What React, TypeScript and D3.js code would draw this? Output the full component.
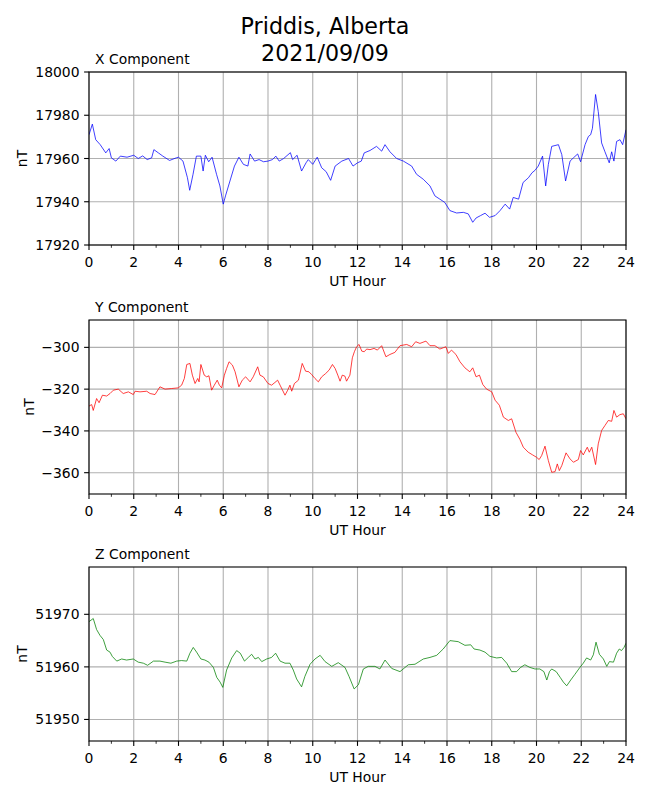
import React from "react";
import * as d3 from "d3";

const titleLines = ["Priddis, Alberta", "2021/09/09"];
const componentNames = ["X Component", "Y Component", "Z Component"];
const hourTicks = [0, 2, 4, 6, 8, 10, 12, 14, 16, 18, 20, 22, 24];
const hourMinorTicks = [1, 3, 5, 7, 9, 11, 13, 15, 17, 19, 21, 23];

const xTicks = [17920, 17940, 17960, 17980, 18000];
const yTicks = [-360, -340, -320, -300];
const zTicks = [51950, 51960, 51970];

const xDomain = [17920, 18000];
const yDomain = [-370.2, -286.9];
const zDomain = [51945.9, 51979.0];

const xHours = [0, 0.15, 0.3, 0.5, 0.75, 0.9, 1.0, 1.2, 1.4, 1.7, 2.0, 2.2, 2.4, 2.6, 2.8, 2.9, 3.1, 3.3, 3.6, 3.9, 4.0, 4.2, 4.4, 4.5, 4.65, 4.8, 5.0, 5.1, 5.2, 5.35, 5.5, 5.7, 5.85, 6.0, 6.1, 6.3, 6.5, 6.7, 6.9, 7.1, 7.2, 7.4, 7.6, 7.8, 8.0, 8.2, 8.35, 8.5, 8.7, 9.0, 9.1, 9.3, 9.5, 9.7, 9.8, 10.0, 10.2, 10.4, 10.6, 10.8, 11.0, 11.3, 11.6, 11.8, 12.0, 12.17, 12.3, 12.56, 12.85, 13.08, 13.23, 13.45, 13.75, 14.05, 14.42, 14.64, 14.94, 15.24, 15.46, 15.68, 15.9, 16.13, 16.43, 16.73, 16.95, 17.15, 17.3, 17.5, 17.7, 17.9, 18.15, 18.37, 18.6, 18.8, 18.96, 19.2, 19.4, 19.64, 19.8, 19.93, 20.08, 20.27, 20.41, 20.53, 20.68, 20.98, 21.13, 21.3, 21.5, 21.65, 21.84, 21.97, 22.17, 22.32, 22.42, 22.5, 22.64, 22.76, 22.91, 23.06, 23.25, 23.36, 23.46, 23.58, 23.73, 23.85, 24.0];
const xValues = [17971.0, 17975.9, 17968.7, 17966.4, 17962.6, 17964.6, 17960.3, 17958.8, 17961.1, 17960.6, 17961.5, 17960.0, 17961.2, 17959.5, 17960.3, 17964.1, 17962.6, 17961.1, 17959.1, 17960.3, 17960.6, 17958.8, 17951.1, 17945.3, 17952.7, 17961.1, 17961.1, 17954.2, 17961.5, 17958.5, 17960.6, 17952.7, 17947.3, 17938.9, 17942.7, 17949.6, 17956.5, 17960.6, 17957.3, 17956.5, 17962.1, 17958.8, 17959.5, 17958.5, 17958.8, 17959.5, 17961.1, 17958.8, 17960.0, 17962.7, 17959.5, 17961.5, 17954.2, 17958.0, 17959.5, 17957.3, 17960.6, 17955.7, 17953.9, 17949.9, 17956.5, 17958.8, 17960.0, 17956.5, 17958.0, 17958.8, 17962.6, 17963.7, 17965.6, 17963.4, 17966.4, 17963.1, 17960.0, 17958.8, 17956.5, 17952.7, 17950.4, 17947.3, 17942.7, 17941.2, 17939.7, 17935.9, 17934.8, 17935.1, 17934.4, 17930.5, 17932.5, 17933.6, 17934.7, 17932.8, 17933.6, 17935.9, 17938.9, 17936.6, 17942.0, 17941.2, 17948.9, 17951.1, 17953.4, 17954.5, 17956.5, 17961.1, 17947.3, 17957.3, 17965.6, 17966.4, 17961.8, 17949.6, 17958.8, 17960.3, 17962.1, 17958.5, 17966.4, 17970.2, 17971.0, 17974.0, 17989.6, 17981.7, 17967.2, 17963.1, 17958.0, 17963.1, 17958.8, 17967.9, 17968.7, 17966.4, 17973.3];

const yHours = [0, 0.12, 0.19, 0.34, 0.45, 0.6, 0.79, 0.94, 1.09, 1.31, 1.53, 1.76, 1.98, 2.06, 2.28, 2.58, 2.73, 2.95, 3.17, 3.4, 3.7, 3.99, 4.14, 4.26, 4.37, 4.51, 4.62, 4.74, 4.86, 4.92, 5.0, 5.15, 5.26, 5.36, 5.48, 5.6, 5.73, 5.83, 5.93, 6.05, 6.15, 6.26, 6.41, 6.53, 6.7, 6.85, 7.0, 7.2, 7.34, 7.54, 7.64, 7.79, 8.0, 8.16, 8.31, 8.43, 8.54, 8.76, 8.88, 8.98, 9.06, 9.18, 9.36, 9.53, 9.68, 9.83, 9.95, 10.1, 10.25, 10.4, 10.58, 10.73, 10.88, 11.0, 11.12, 11.22, 11.32, 11.44, 11.51, 11.66, 11.77, 11.86, 11.96, 12.07, 12.19, 12.3, 12.41, 12.56, 12.74, 12.89, 13.08, 13.27, 13.45, 13.67, 13.9, 14.2, 14.42, 14.6, 14.79, 15.06, 15.24, 15.46, 15.68, 15.83, 15.95, 16.06, 16.2, 16.4, 16.58, 16.8, 17.02, 17.15, 17.3, 17.45, 17.6, 17.77, 18.0, 18.15, 18.34, 18.52, 18.74, 18.89, 19.08, 19.26, 19.41, 19.63, 19.83, 20.0, 20.12, 20.23, 20.38, 20.53, 20.68, 20.83, 20.93, 21.02, 21.13, 21.32, 21.5, 21.65, 21.87, 21.97, 22.09, 22.27, 22.36, 22.47, 22.64, 22.76, 22.91, 23.06, 23.21, 23.36, 23.46, 23.58, 23.73, 23.88, 24.0];
const yValues = [-328.1, -327.4, -330.2, -324.5, -326.5, -322.9, -323.3, -322.1, -320.5, -320.0, -322.1, -321.3, -322.6, -321.0, -321.3, -321.0, -322.1, -322.6, -318.9, -320.0, -319.7, -319.4, -318.1, -314.9, -308.2, -307.7, -313.3, -317.3, -314.9, -316.5, -308.2, -313.3, -314.1, -313.6, -320.5, -318.1, -315.7, -318.1, -319.4, -313.3, -310.1, -306.9, -308.5, -311.7, -318.9, -315.7, -314.1, -316.5, -314.1, -309.3, -313.3, -314.1, -317.3, -318.1, -316.8, -315.7, -318.1, -322.9, -320.5, -318.1, -321.0, -317.3, -315.7, -307.7, -311.4, -311.7, -313.0, -314.9, -316.5, -314.1, -312.5, -310.9, -308.2, -310.1, -313.3, -316.2, -313.3, -313.8, -316.2, -313.3, -305.0, -302.1, -299.7, -298.6, -301.8, -302.1, -300.8, -301.1, -300.5, -301.3, -299.2, -304.5, -303.4, -302.4, -299.2, -298.6, -299.7, -297.3, -298.1, -297.0, -299.2, -299.2, -300.8, -300.2, -299.7, -302.9, -301.3, -303.4, -306.9, -309.8, -311.7, -309.8, -314.1, -313.3, -317.8, -320.0, -321.3, -325.3, -327.7, -333.4, -335.0, -334.2, -340.6, -344.1, -347.8, -350.2, -351.5, -352.6, -353.7, -351.8, -347.3, -354.2, -359.8, -359.5, -355.8, -359.0, -356.6, -350.5, -353.4, -355.0, -353.7, -349.4, -351.5, -347.8, -350.2, -347.8, -356.1, -346.2, -339.8, -337.4, -335.0, -335.4, -330.2, -333.4, -332.2, -331.8, -334.2];

const zHours = [0, 0.19, 0.34, 0.49, 0.64, 0.79, 0.94, 1.04, 1.24, 1.46, 1.68, 1.98, 2.2, 2.43, 2.62, 2.88, 3.17, 3.4, 3.66, 3.92, 4.14, 4.37, 4.51, 4.66, 4.81, 5.0, 5.18, 5.36, 5.56, 5.71, 5.86, 5.98, 6.15, 6.38, 6.6, 6.76, 6.95, 7.12, 7.27, 7.42, 7.57, 7.72, 7.94, 8.16, 8.34, 8.54, 8.76, 8.98, 9.13, 9.28, 9.5, 9.65, 9.88, 10.1, 10.33, 10.55, 10.85, 11.14, 11.44, 11.62, 11.85, 12.04, 12.26, 12.48, 12.78, 13.0, 13.23, 13.53, 13.9, 14.27, 14.57, 14.94, 15.24, 15.54, 15.83, 16.13, 16.5, 16.8, 17.06, 17.21, 17.47, 17.7, 17.92, 18.22, 18.44, 18.67, 18.89, 19.11, 19.29, 19.48, 19.7, 19.93, 20.15, 20.33, 20.46, 20.58, 20.68, 20.88, 21.06, 21.2, 21.35, 21.53, 21.72, 21.94, 22.09, 22.24, 22.42, 22.54, 22.66, 22.81, 22.99, 23.14, 23.26, 23.44, 23.58, 23.7, 23.8, 23.91, 24.0];
const zValues = [51968.6, 51969.2, 51967.1, 51966.0, 51965.2, 51963.2, 51962.8, 51962.0, 51961.1, 51961.5, 51961.3, 51961.5, 51960.9, 51960.7, 51960.3, 51961.1, 51961.1, 51960.9, 51960.7, 51961.1, 51961.2, 51961.1, 51962.6, 51963.7, 51962.8, 51961.5, 51961.3, 51960.9, 51959.9, 51958.0, 51957.1, 51956.1, 51959.4, 51961.7, 51963.1, 51962.6, 51961.1, 51961.8, 51962.4, 51961.5, 51961.8, 51961.0, 51961.5, 51961.8, 51962.6, 51961.1, 51960.7, 51960.7, 51959.4, 51957.7, 51956.2, 51958.2, 51960.5, 51961.5, 51962.2, 51961.0, 51960.1, 51960.8, 51959.9, 51958.2, 51955.8, 51956.6, 51959.6, 51960.1, 51960.1, 51959.6, 51961.3, 51959.7, 51959.1, 51960.4, 51960.5, 51961.5, 51961.8, 51962.2, 51963.4, 51965.0, 51964.8, 51964.1, 51964.2, 51963.4, 51963.2, 51962.8, 51962.0, 51961.7, 51961.8, 51960.7, 51959.1, 51959.1, 51959.9, 51960.4, 51959.9, 51959.6, 51959.6, 51959.1, 51957.5, 51959.1, 51959.6, 51959.1, 51958.0, 51957.1, 51956.4, 51957.5, 51958.6, 51959.9, 51960.7, 51961.7, 51961.3, 51962.3, 51964.7, 51962.4, 51961.5, 51960.1, 51961.0, 51960.9, 51962.6, 51963.4, 51963.1, 51963.7, 51964.5];

const FONT = "DejaVu Sans, sans-serif";
const W = 650;
const H = 800;
const LEFT = 89;
const RIGHT = 626;

type PanelProps = {
  top: number;
  bottom: number;
  name: string;
  hours: number[];
  values: number[];
  domain: number[];
  ticks: number[];
  color: string;
  ylabelX: number;
};

function fmt(v: number) {
  return String(v).replace("-", "\u2212");
}

function Panel({ top, bottom, name, hours, values, domain, ticks, color, ylabelX }: PanelProps) {
  const x = d3.scaleLinear().domain([0, 24]).range([LEFT, RIGHT]);
  const y = d3.scaleLinear().domain(domain).range([bottom, top]);
  const idx = d3.range(hours.length);
  const line = d3
    .line<number>()
    .x((i) => x(hours[i]))
    .y((i) => y(values[i]));
  const clipId = "clip-" + name.replace(/\s/g, "");
  return (
    <g>
      <defs>
        <clipPath id={clipId}>
          <rect x={LEFT} y={top} width={RIGHT - LEFT} height={bottom - top} />
        </clipPath>
      </defs>
      {hourTicks.map((t) => (
        <line key={"gx" + t} x1={x(t)} x2={x(t)} y1={top} y2={bottom} stroke="#b0b0b0" strokeWidth={1.1} />
      ))}
      {ticks.map((t) => (
        <line key={"gy" + t} x1={LEFT} x2={RIGHT} y1={y(t)} y2={y(t)} stroke="#b0b0b0" strokeWidth={1.1} />
      ))}
      <path d={line(idx) || ""} fill="none" stroke={color} strokeWidth={0.75} clipPath={`url(#${clipId})`} />
      <rect x={LEFT} y={top} width={RIGHT - LEFT} height={bottom - top} fill="none" stroke="#000" strokeWidth={1.1} />
      {hourTicks.map((t) => (
        <g key={"tx" + t}>
          <line x1={x(t)} x2={x(t)} y1={bottom} y2={bottom + 4.9} stroke="#000" strokeWidth={1.1} />
          <text x={x(t)} y={bottom + 21.5} textAnchor="middle" fontSize={13.9} fontFamily={FONT}>
            {t}
          </text>
        </g>
      ))}
      {hourMinorTicks.map((t) => (
        <line key={"mx" + t} x1={x(t)} x2={x(t)} y1={bottom} y2={bottom + 2.8} stroke="#000" strokeWidth={0.8} />
      ))}
      {ticks.map((t) => (
        <g key={"ty" + t}>
          <line x1={LEFT - 4.9} x2={LEFT} y1={y(t)} y2={y(t)} stroke="#000" strokeWidth={1.1} />
          <text x={LEFT - 9.5} y={y(t) + 5} textAnchor="end" fontSize={13.9} fontFamily={FONT}>
            {fmt(t)}
          </text>
        </g>
      ))}
      <text x={(LEFT + RIGHT) / 2} y={bottom + 41} textAnchor="middle" fontSize={13.9} fontFamily={FONT}>
        UT Hour
      </text>
      <text
        transform={`translate(${ylabelX},${(top + bottom) / 2}) rotate(-90)`}
        textAnchor="middle"
        dominantBaseline="central"
        fontSize={13.9}
        fontFamily={FONT}
      >
        nT
      </text>
      <text x={LEFT + 6} y={top - 8} fontSize={13.9} fontFamily={FONT}>
        {name}
      </text>
    </g>
  );
}

export default function App() {
  return (
    <svg
      width={W}
      height={H}
      viewBox={`0 0 ${W} ${H}`}
      style={{ position: "absolute", left: 0, top: 0, background: "#fff" }}
    >
      <rect x={0} y={0} width={W} height={H} fill="#fff" />
      <text x={W / 2} y={34} textAnchor="middle" fontSize={22.2} fontFamily={FONT}>
        {titleLines[0]}
      </text>
      <text x={W / 2} y={61} textAnchor="middle" fontSize={22.2} fontFamily={FONT}>
        {titleLines[1]}
      </text>
      <Panel top={72} bottom={245} name={componentNames[0]} hours={xHours} values={xValues} domain={xDomain} ticks={xTicks} color="#0000ff" ylabelX={22} />
      <Panel top={320} bottom={494} name={componentNames[1]} hours={yHours} values={yValues} domain={yDomain} ticks={yTicks} color="#ff0000" ylabelX={28.5} />
      <Panel top={567} bottom={741} name={componentNames[2]} hours={zHours} values={zValues} domain={zDomain} ticks={zTicks} color="#008000" ylabelX={22} />
    </svg>
  );
}
